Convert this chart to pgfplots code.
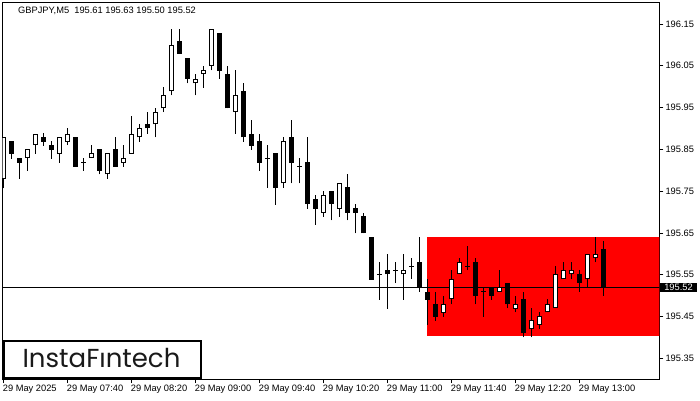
\documentclass[border=0pt]{standalone}
\usepackage{pgfplots}
\usepackage{pgfplotstable}
\pgfplotsset{compat=1.18}
\usepackage{fontspec}
\setmainfont{Liberation Sans}
\newfontfamily\logofont{Poppins}

% GBPJPY M5 candles, index 0 = 29 May 07:00
\pgfplotstableread{
i o h l c
0 195.780 195.879 195.757 195.879
1 195.870 195.870 195.828 195.840
2 195.829 195.829 195.780 195.818
3 195.829 195.850 195.799 195.850
4 195.860 195.888 195.840 195.888
5 195.880 195.889 195.859 195.868
6 195.861 195.870 195.828 195.849
7 195.840 195.879 195.818 195.879
8 195.868 195.901 195.860 195.888
9 195.880 195.880 195.809 195.809
10 195.818 195.829 195.799 195.818
11 195.829 195.860 195.829 195.841
12 195.850 195.850 195.790 195.799
13 195.790 195.841 195.780 195.841
14 195.850 195.880 195.809 195.809
15 195.818 195.860 195.809 195.829
16 195.840 195.929 195.840 195.888
17 195.879 195.910 195.868 195.900
18 195.910 195.939 195.888 195.900
19 195.910 195.949 195.879 195.939
20 195.948 195.999 195.939 195.979
21 195.989 196.138 195.979 196.099
22 196.109 196.138 196.079 196.079
23 196.069 196.069 196.008 196.019
24 196.008 196.030 195.979 196.019
25 196.030 196.049 195.998 196.039
26 196.049 196.138 196.039 196.138
27 196.128 196.128 196.019 196.038
28 196.030 196.049 195.948 195.948
29 195.939 196.039 195.888 195.979
30 195.989 196.008 195.868 195.879
31 195.888 195.920 195.849 195.859
32 195.869 195.888 195.799 195.818
33 195.829 195.860 195.758 195.829
34 195.841 195.841 195.718 195.758
35 195.769 195.879 195.758 195.869
36 195.879 195.920 195.769 195.818
37 195.809 195.829 195.769 195.809
38 195.819 195.879 195.708 195.719
39 195.731 195.741 195.670 195.708
40 195.699 195.750 195.689 195.741
41 195.750 195.750 195.680 195.719
42 195.708 195.769 195.689 195.769
43 195.760 195.791 195.680 195.699
44 195.710 195.719 195.649 195.699
45 195.690 195.699 195.649 195.649
46 195.640 195.640 195.538 195.538
47 195.551 195.580 195.490 195.551
48 195.561 195.600 195.469 195.551
49 195.561 195.580 195.530 195.561
50 195.551 195.600 195.490 195.561
51 195.570 195.589 195.540 195.570
52 195.580 195.640 195.509 195.520
53 195.510 195.540 195.431 195.490
54 195.480 195.510 195.440 195.450
55 195.459 195.500 195.450 195.479
56 195.491 195.561 195.479 195.539
57 195.551 195.589 195.551 195.580
58 195.570 195.620 195.561 195.570
59 195.580 195.589 195.479 195.500
60 195.510 195.520 195.450 195.510
61 195.520 195.520 195.490 195.500
62 195.510 195.561 195.510 195.520
63 195.530 195.530 195.470 195.479
64 195.469 195.500 195.460 195.479
65 195.491 195.510 195.400 195.410
66 195.420 195.470 195.400 195.441
67 195.431 195.460 195.420 195.451
68 195.460 195.491 195.460 195.479
69 195.470 195.571 195.470 195.551
70 195.539 195.580 195.539 195.561
71 195.551 195.580 195.539 195.561
72 195.551 195.561 195.510 195.530
73 195.539 195.599 195.520 195.599
74 195.589 195.640 195.580 195.599
75 195.611 195.631 195.500 195.520
}\ohlc

\begin{document}
\begin{tikzpicture}
\begin{axis}[
    at={(2.5pt,21pt)}, anchor=south west,
    scale only axis, width=656.8pt, height=377pt,
    xmin=-0.125, xmax=81.975,
    ymin=195.3007, ymax=196.2026,
    axis line style={black, line width=0.8pt},
    tick align=outside, major tick length=4pt,
    tick style={black, line width=0.8pt},
    xtick pos=bottom, ytick pos=right, yticklabel pos=right,
    xtick={0,8,16,24,32,40,48,56,64,72},
    xticklabels={29 May 2025, 29 May 07:40, 29 May 08:20, 29 May 09:00,
        29 May 09:40, 29 May 10:20, 29 May 11:00, 29 May 11:40,
        29 May 12:20, 29 May 13:00},
    ytick={195.35,195.45,195.55,195.65,195.75,195.85,195.95,196.05,196.15},
    yticklabels={195.35,195.45,195.55,195.65,195.75,195.85,195.95,196.05,196.15},
    tick label style={font=\fontsize{9.3}{11}\selectfont},
    x tick label style={anchor=north west, inner sep=0pt, xshift=-0.8pt, yshift=-2pt},
    y tick label style={anchor=west, inner sep=0pt, xshift=2pt},
    candle/.style={draw=none, mark=none},
]
% pattern rectangle
\addplot[fill=red, draw=none] coordinates
    {(52.95,195.403) (52.95,195.640) (83,195.640) (83,195.403)} -- cycle;
% last price line
\addplot[black, line width=0.8pt] coordinates {(-1,195.52) (83,195.52)};
% wicks
\addplot[candle,
    error bars/.cd, y dir=plus, y explicit, error mark=none,
    error bar style={draw=black, line width=1pt}]
    table[x=i, y=l, y error plus expr=\thisrow{h}-\thisrow{l}] {\ohlc};
% bearish bodies
\addplot[candle,
    restrict expr to domain={\thisrow{o}-\thisrow{c}}{0.0005:10},
    error bars/.cd, y dir=plus, y explicit, error mark=none,
    error bar style={draw=black, line width=5pt}]
    table[x=i, y=c, y error plus expr=\thisrow{o}-\thisrow{c}] {\ohlc};
% bullish bodies: outline then white inside
\addplot[candle,
    restrict expr to domain={\thisrow{c}-\thisrow{o}}{0.0005:10},
    error bars/.cd, y dir=plus, y explicit, error mark=none,
    error bar style={draw=black, line width=5pt}]
    table[x=i, y=o, y error plus expr=\thisrow{c}-\thisrow{o}] {\ohlc};
\addplot[candle,
    restrict expr to domain={\thisrow{c}-\thisrow{o}}{0.0005:10},
    error bars/.cd, y dir=plus, y explicit, error mark=none,
    error bar style={draw=white, line width=3pt, shorten <=1pt, shorten >=1pt}]
    table[x=i, y=o, y error plus expr=\thisrow{c}-\thisrow{o}] {\ohlc};
% doji
\addplot[candle,
    restrict expr to domain={\thisrow{c}-\thisrow{o}}{-0.0005:0.0005},
    error bars/.cd, x dir=both, x explicit, error mark=none,
    error bar style={draw=black, line width=1pt}]
    table[x=i, y=o, x error expr=0.33] {\ohlc};
\end{axis}

\node[anchor=west, inner sep=0pt, font=\fontsize{9.3}{11}\selectfont]
    at (18pt,389pt) {GBPJPY,M5\ \ 195.61 195.63 195.50 195.52};
\node[anchor=west, fill=black, text=white, inner sep=0pt,
    minimum width=37pt, minimum height=9.5pt, font=\fontsize{9.3}{11}\selectfont]
    at (659.8pt,112.5pt) {195.52};
\draw[line width=2pt, fill=white] (3.5pt,22pt) rectangle (201pt,59pt);
\node[anchor=base, inner sep=0pt, text=black!90, font=\logofont\fontsize{26}{28}\selectfont]
    at (101.5pt,32.3pt) {InstaFıntech};

\pgfresetboundingbox
\path[use as bounding box] (0pt,0pt) rectangle (700pt,400pt);
\end{tikzpicture}
\end{document}
